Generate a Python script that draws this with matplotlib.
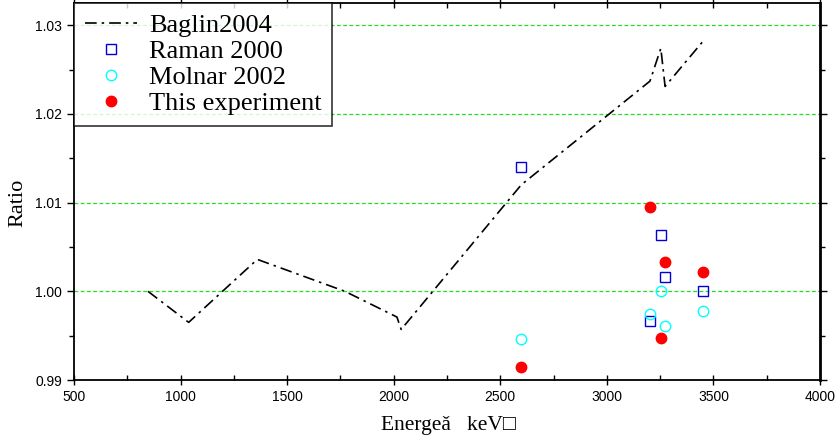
import matplotlib
matplotlib.use("Agg")
import matplotlib.pyplot as plt
from matplotlib.ticker import MultipleLocator, FormatStrFormatter

# Baglin2004 curve
baglin_e = [847, 1038, 1360, 1771, 2015, 2035, 2598, 3202, 3253, 3273, 3451]
baglin_r = [1.0000, 0.9965, 1.0036, 1.0000, 0.9971, 0.9957, 1.0120, 1.0237, 1.0274, 1.0231, 1.0282]

# Raman 2000
raman_e = [2598, 3202, 3253, 3273, 3451]
raman_r = [1.0140, 0.9966, 1.0064, 1.0016, 1.0000]

# Molnar 2002
molnar_e = [2598, 3202, 3253, 3273, 3451]
molnar_r = [0.9946, 0.9974, 1.0000, 0.9961, 0.9978]

# This experiment
exp_e = [2598, 3202, 3253, 3273, 3451]
exp_r = [0.9915, 1.0095, 0.9947, 1.0033, 1.0022]

SERIF = ["Liberation Serif", "DejaVu Serif"]
TICKF = ["Liberation Sans", "DejaVu Sans"]

fig = plt.figure(figsize=(8.35, 4.41), dpi=100)
ax = fig.add_axes([0.0886, 0.1383, 0.8935, 0.8547])

ax.plot(baglin_e, baglin_r, color="black", ls=(0, (7, 3, 1.5, 3)), lw=1.2, label="Baglin2004")
ax.plot(raman_e, raman_r, "s", ms=6.5, mfc="none", mec="#0000dd", mew=1.0, label="Raman 2000")
ax.plot(molnar_e, molnar_r, "o", ms=7.5, mfc="none", mec="cyan", mew=1.0, label="Molnar 2002")
ax.plot(exp_e, exp_r, "o", ms=7.5, color="red", mec="red", label="This experiment")

ax.set_xlim(500, 4000)
ax.set_ylim(0.99, 1.0325)
ax.xaxis.set_major_locator(MultipleLocator(500))
ax.xaxis.set_minor_locator(MultipleLocator(250))
ax.yaxis.set_major_locator(MultipleLocator(0.01))
ax.yaxis.set_minor_locator(MultipleLocator(0.005))
ax.yaxis.set_major_formatter(FormatStrFormatter("%.2f"))

for y in [1.00, 1.01, 1.02, 1.03]:
    ax.axhline(y, color="#22dd22", ls=(0, (3, 2)), lw=0.9, zorder=0)

ax.tick_params(axis="x", which="major", direction="inout", length=7, width=1, top=True, labelsize=10)
ax.tick_params(axis="x", which="minor", direction="in", length=3.5, width=1, top=True)
ax.tick_params(axis="y", which="major", direction="out", length=5, width=1, right=True, labelsize=10)
ax.tick_params(axis="y", which="minor", direction="out", length=3.5, width=1, right=True)
for lab in ax.get_xticklabels() + ax.get_yticklabels():
    lab.set_family(TICKF)

for s in ax.spines.values():
    s.set_linewidth(1.3)
ax.spines["right"].set_linewidth(2)

ax.set_xlabel("Energeǎ   keV□", family=SERIF, fontsize=15.5)
ax.set_ylabel("Ratio", family=SERIF, fontsize=16)
ax.xaxis.set_label_coords(0.502, -0.095)
ax.yaxis.set_label_coords(-0.062, 0.47)

leg = ax.legend(loc="upper left", prop={"family": SERIF, "size": 19}, frameon=True,
                fancybox=False, borderaxespad=0, handlelength=2.0, labelspacing=0.1,
                borderpad=0.4, handletextpad=0.45)
leg.get_frame().set_edgecolor("black")
leg.get_frame().set_linewidth(1.2)

fig.savefig("out.png", dpi=100)
